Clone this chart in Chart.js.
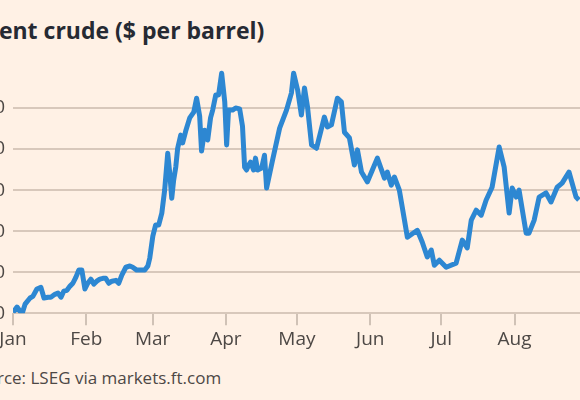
<!DOCTYPE html>
<html><head><meta charset="utf-8">
<script src="https://cdn.jsdelivr.net/npm/chart.js@4"></script>
<style>
html,body{margin:0;padding:0;background:#fff1e5;width:580px;height:400px;overflow:hidden;position:relative;font-family:"Open Sans",sans-serif}
#title{position:absolute;left:-27px;top:14px;font-size:23px;font-weight:700;color:#262a33;white-space:nowrap}
#src{position:absolute;left:-33px;top:366px;font-size:17px;color:#4d4845;white-space:nowrap}
#wrap{position:absolute;left:-60px;top:0;width:660px;height:360px}
</style></head><body>
<div id="title">Brent crude ($ per barrel)</div>
<div id="wrap"><canvas id="c"></canvas></div>
<div id="src">Source: LSEG via markets.ft.com</div>
<script>
const days=[0,1.7,3.8,5.1,7.2,8.4,10.1,11.8,13.1,14.8,16,17.7,19,20.3,21.5,22.8,24.1,25.3,26.6,27.8,29.1,30.4,31.6,32.9,34.2,35.4,36.7,38,39.2,40.5,41.8,43.5,44.7,46,47.7,49.4,50.6,52.3,54,55.7,57,57.8,59.1,60.3,61.6,62.9,64.1,65.4,66.2,67.1,67.9,68.8,69.6,70.9,71.7,73,74.7,76.4,77.6,78.9,79.7,81,82.3,83.5,84.4,85.7,86.9,88.2,89.5,90.3,91.1,92.8,94.1,95.8,97,97.9,98.7,99.6,100.4,101.7,102.5,103.4,105.1,106.3,107.2,109.7,112.7,115.6,117.7,118.6,120.3,121.9,123.2,124.5,126.2,128.3,131.6,132.9,134.6,137.1,138.8,140.1,142.2,144.3,145.6,147.3,149.8,151.9,154,157,158.2,159.9,161.2,163.3,166.7,170.9,173,175.1,176.8,178.1,180.2,183.1,187.3,189.9,192,193.7,195.8,197.9,200,202.5,205.5,207.6,209.7,211,212.7,213.9,216.9,218.1,220.3,222.4,225.3,227.4,230,232.1,235,238,239.2];
const prices=[60.2,61.5,59.8,62.2,63.7,64.1,65.9,66.3,63.7,63.9,63.9,64.6,64.9,63.9,65.4,65.6,66.6,67.3,68.8,70.5,70.5,65.9,67.3,68.3,67.1,67.8,68.3,68.5,68.5,67.3,67.8,68,67.3,69.3,71.2,71.5,71.2,70.5,70.5,70.5,71.5,73.4,78.8,81.5,81.5,84.4,90,99,94.4,88,92.4,95.6,100.2,103.4,101.5,104.4,107.6,109,112.4,108,99.5,104.6,102.2,107.6,109.5,113.2,113.2,118.5,111.5,101,109.5,109.5,110,109.8,105.6,95.6,94.9,96.1,96.8,94.9,97.8,94.9,95.4,98.5,90.5,97.3,105.1,109.5,113.7,118.5,114.4,108.3,114.9,110.2,101,100.2,107.8,105.4,105.9,112.4,111.5,104.1,102.7,96.1,99.8,94.4,92,94.9,97.8,92.9,94.4,91.2,93.2,90,78.5,80.2,77.3,73.7,75.4,71.7,72.9,71.2,72.2,77.8,75.9,82.7,85.1,83.9,87.6,90.7,100.5,95.6,84.4,90.5,88.3,90,79.5,79.5,82.7,88.3,89.3,87.1,90.7,91.7,94.4,88.3,87.6];
const monthDays=[0,31,59,90,120,151,181,212];
const monthLabels=['Jan','Feb','Mar','Apr','May','Jun','Jul','Aug'];
const yTicks=[60,70,80,90,100,110];

new Chart(document.getElementById('c'),{
 type:'line',
 data:{datasets:[{data:days.map((d,i)=>({x:d,y:prices[i]})),borderColor:'#2d87d2',borderWidth:5,pointRadius:0,tension:0,borderJoinStyle:'round'}]},
 options:{responsive:true,maintainAspectRatio:false,animation:false,
  layout:{padding:{top:67,right:5,bottom:6,left:0}},
  plugins:{legend:{display:false},tooltip:{enabled:false}},
  scales:{
   x:{type:'linear',min:0,max:246,
     afterBuildTicks:s=>{s.ticks=monthDays.map(v=>({value:v}));},
     ticks:{callback:(v)=>monthLabels[monthDays.indexOf(v)],color:'#4d4845',font:{family:'Open Sans',size:19},padding:3,maxRotation:0,autoSkip:false},
     grid:{drawOnChartArea:false,drawTicks:true,tickLength:12,color:'#d0c2b6',lineWidth:2},border:{display:false}},
   y:{min:60,max:120,
     afterBuildTicks:s=>{s.ticks=yTicks.map(v=>({value:v}));},
     afterFit:s=>{s.width=73;},
     ticks:{color:'#4d4845',font:{family:'Open Sans',size:19},padding:8},
     grid:{color:'#d8c8bb',lineWidth:2,drawTicks:false},border:{display:false}}
  }}
});
</script></body></html>
